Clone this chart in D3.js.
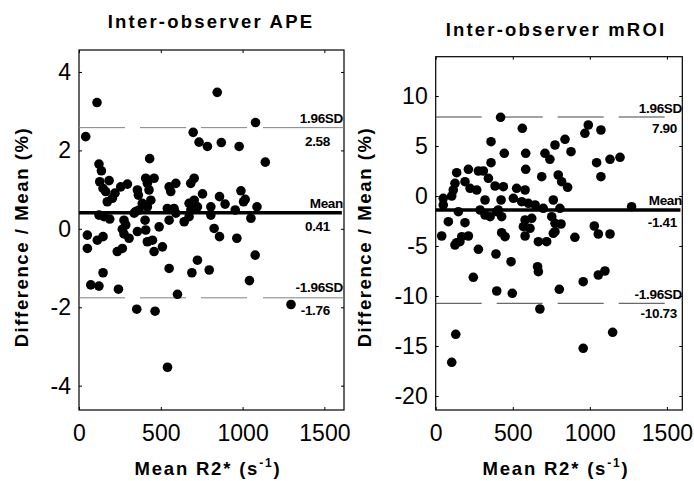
<!DOCTYPE html>
<html>
<head>
<meta charset="utf-8">
<script src="https://cdn.jsdelivr.net/npm/d3@7"></script>
<style>
body { margin: 0; background: #fff; }
text { font-family: "Liberation Sans", Arial, sans-serif; }
</style>
</head>
<body>
<script>
// Inter-observer APE : mean R2* vs difference/mean (%)
var apeMean = [110, 845, 41, 698, 734, 785, 870, 979, 1079, 1139, 432, 122, 137, 127, 147, 184, 163, 173, 204, 220,
  255, 296, 357, 363, 408, 459, 418, 428, 387, 439, 347, 418, 551, 592, 561, 704, 683, 755, 673, 704,
  724, 684, 673, 643, 806, 806, 540, 581, 551, 592, 490, 337, 367, 122, 153, 188, 275, 286, 265, 275,
  306, 357, 408, 404, 418, 449, 459, 510, 51, 51, 112, 147, 234, 265, 147, 72, 122, 241, 551, 724,
  690, 796, 826, 859, 893, 990, 1006, 1016, 955, 1088, 1051, 859, 965, 1077, 1042, 353, 465, 602, 541, 1296]
var apeDiff = [3.22, 3.48, 2.35, 2.46, 2.21, 2.10, 2.20, 2.10, 2.71, 1.70, 1.79, 1.65, 1.48, 1.20, 1.03, 1.23, 0.95, 0.69, 0.78, 0.91,
  1.07, 1.14, 0.99, 0.86, 1.29, 1.29, 1.16, 0.99, 0.65, 0.73, 0.44, 0.56, 1.07, 1.16, 0.95, 1.29, 1.16, 0.89, 0.65, 0.73,
  0.56, 0.48, 0.31, 0.18, 0.56, 0.35, 0.52, 0.52, 0.22, 0.40, 0.05, 0.40, 0.48, 0.35, 0.31, 0.25, 0.22, 0.10, -0.01, -0.13,
  -0.24, -0.07, -0.03, 0.22, -0.33, -0.29, -0.58, -0.46, -0.16, -0.50, -0.29, -0.20, -0.58, -0.50, -1.12, -1.43, -1.46, -1.54, -1.01, -0.80,
  -1.12, -1.05, 0.01, 0.82, 0.63, 0.97, 0.69, 0.75, 0.48, 0.56, 0.27, -0.20, -0.24, -0.67, -1.32, -2.05, -2.10, -1.67, -3.53, -1.93]

// Inter-observer mROI
var roiMean = [421, 562, 359, 445, 584, 709, 741, 774, 359, 584, 688, 136, 212, 277, 309, 342, 125, 190, 223, 266,
  114, 104, 385, 439, 525, 580, 49, 49, 320, 424, 504, 558, 601, 645, 698, 763, 147, 82, 190, 288,
  320, 353, 396, 428, 406, 580, 623, 569, 612, 753, 39, 136, 169, 212, 428, 450, 580, 666, 720, 763,
  277, 391, 489, 661, 990, 968, 1072, 839, 878, 1044, 1131, 1196, 1072, 795, 817, 856, 806, 1271, 774, 813,
  774, 903, 1029, 1055, 1131, 125, 157, 666, 244, 396, 497, 676, 802, 957, 1055, 1098, 130, 104, 957, 1148]
var roiDiff = [7.87, 6.77, 5.43, 4.27, 4.27, 4.27, 3.67, 5.10, 3.33, 2.67, 1.93, 2.33, 2.67, 2.50, 2.50, 1.77, 1.27, 1.43, 0.77, 0.60,
  0.60, 0.00, 1.00, 0.93, 0.77, 0.60, -0.23, -0.90, -0.40, -0.40, -0.23, -0.57, -0.73, -0.90, -1.23, -0.40, -1.57, -2.57, -2.67, -1.40,
  -1.90, -2.07, -1.57, -2.07, -1.40, -2.40, -2.23, -3.07, -3.23, -2.07, -4.00, -4.67, -4.07, -4.00, -3.67, -4.07, -4.00, -4.57, -4.57, -3.73,
  -5.33, -5.80, -6.57, -7.07, 7.10, 6.27, 6.60, 5.67, 4.43, 3.33, 3.67, 3.87, 1.93, 2.10, 1.43, 0.87, -1.23, -1.07, -2.73, -2.80,
  -3.57, -4.13, -3.00, -3.80, -3.80, -4.90, -4.57, -7.57, -8.13, -9.50, -9.73, -11.30, -9.33, -8.57, -7.90, -7.50, -13.83, -16.63, -15.23, -13.63]

var xTicks = [0, 500, 1000, 1500]
var apeYTicks = [-4, -2, 0, 2, 4]
var roiYTicks = [-20, -15, -10, -5, 0, 5, 10]
var limitNames = ["1.96SD", "Mean", "-1.96SD"]
var apeLimits = [2.58, 0.41, -1.76]
var roiLimits = [7.90, -1.41, -10.73]

var width = 694,
    height = 481

var svg = d3.select("body")
  .append("svg")
  .attr("width", width)
  .attr("height", height)

function makeTranslate(x, y) {
  return "translate(" + x + " " + y + ")"
}

function numText(d) {
  return String(d)
}

function drawPanel(p) {
  var x = d3.scaleLinear().domain(p.xDomain).range([p.left, p.right])
  var y = d3.scaleLinear().domain(p.yDomain).range([p.bottom, p.top])
  var g = svg.append("g")

  // inward ticks on all four sides
  g.append("g")
    .attr("transform", makeTranslate(0, p.bottom))
    .call(d3.axisBottom(x).tickValues(xTicks).tickSize(-3).tickPadding(15).tickFormat(numText))
  g.append("g")
    .attr("transform", makeTranslate(p.left, 0))
    .call(d3.axisLeft(y).tickValues(p.yTicks).tickSize(-3).tickPadding(8).tickFormat(numText))
  g.append("g")
    .attr("transform", makeTranslate(0, p.top))
    .call(d3.axisTop(x).tickValues(xTicks).tickSize(-3).tickFormat(""))
  g.append("g")
    .attr("transform", makeTranslate(p.right, 0))
    .call(d3.axisRight(y).tickValues(p.yTicks).tickSize(-3).tickFormat(""))

  g.selectAll(".domain").remove()
  g.selectAll(".tick text")
    .attr("font-size", 23)
    .attr("font-family", "Liberation Sans, Arial, sans-serif")
    .attr("fill", "#000")

  g.append("rect")
    .attr("x", p.left)
    .attr("y", p.top)
    .attr("width", p.right - p.left)
    .attr("height", p.bottom - p.top)
    .attr("fill", "none")
    .attr("stroke", "#000")
    .attr("stroke-width", 1.2)

  // limits of agreement
  p.limits.forEach(function(v, i) {
    if (i === 1) {
      g.append("line")
        .attr("x1", x(0))
        .attr("x2", x(p.meanEnd))
        .attr("y1", y(v))
        .attr("y2", y(v))
        .attr("stroke", "#000")
        .attr("stroke-width", 3.5)
    } else {
      g.append("line")
        .attr("x1", x(0))
        .attr("x2", x(p.dashEnd))
        .attr("y1", y(v))
        .attr("y2", y(v))
        .attr("stroke", p.dashColor)
        .attr("stroke-width", 1)
        .attr("stroke-dasharray", p.dash)
    }
  })

  g.selectAll("circle")
    .data(p.xs)
    .enter().append("circle")
    .attr("cx", function(d) { return x(d) })
    .attr("cy", function(d, i) { return y(p.ys[i]) })
    .attr("r", 4.8)
    .attr("fill", "#000")

  p.limits.forEach(function(v, i) {
    g.append("text")
      .text(limitNames[i])
      .attr("x", p.nameX)
      .attr("y", y(v) + p.nameDy[i])
      .attr("text-anchor", "end")
      .attr("font-size", 13.5)
      .attr("font-weight", "bold")
      .attr("letter-spacing", -0.3)
    g.append("text")
      .text(v.toFixed(2))
      .attr("x", p.valueX)
      .attr("y", y(v) + p.valueDy[i])
      .attr("text-anchor", "end")
      .attr("font-size", 13.5)
      .attr("font-weight", "bold")
      .attr("letter-spacing", -0.3)
  })

  g.append("text")
    .text(p.title)
    .attr("x", p.titleX)
    .attr("y", p.titleY)
    .attr("text-anchor", "middle")
    .attr("font-size", 18.5)
    .attr("font-weight", "bold")
    .attr("letter-spacing", 2.2)

  var xt = g.append("text")
    .attr("x", p.xTitleX)
    .attr("y", 475)
    .attr("text-anchor", "middle")
    .attr("font-size", 18.5)
    .attr("font-weight", "bold")
    .attr("letter-spacing", 1.8)
  xt.append("tspan").text("Mean R2* (s")
  xt.append("tspan").text("-1").attr("font-size", 12).attr("dy", -8)
  xt.append("tspan").text(")").attr("dy", 8)

  g.append("text")
    .text("Difference / Mean (%)")
    .attr("transform", makeTranslate(p.yTitleX, 237) + " rotate(-90)")
    .attr("text-anchor", "middle")
    .attr("font-size", 18.5)
    .attr("font-weight", "bold")
    .attr("letter-spacing", 1.6)
}

drawPanel({
  title: "Inter-observer APE",
  titleX: 211, titleY: 28,
  xTitleX: 208, yTitleX: 28,
  left: 79, right: 344, top: 50, bottom: 410,
  xDomain: [0, 1620], yDomain: [-4.62, 4.56],
  yTicks: apeYTicks,
  xs: apeMean, ys: apeDiff,
  limits: apeLimits,
  meanEnd: 1607, dashEnd: 1620,
  dash: "46,15,46,15,46,16,90", dashColor: "#808080",
  nameX: 343, valueX: 330,
  nameDy: [-5, -5, -6], valueDy: [18, 18, 17]
})

drawPanel({
  title: "Inter-observer mROI",
  titleX: 556, titleY: 36,
  xTitleX: 556, yTitleX: 371,
  left: 435.7, right: 682.3, top: 56.7, bottom: 410,
  xDomain: [0, 1600], yDomain: [-21.4, 13.93],
  yTicks: roiYTicks,
  xs: roiMean, ys: roiDiff,
  limits: roiLimits,
  meanEnd: 1588, dashEnd: 1488,
  dash: "46,15", dashColor: "#444",
  nameX: 682, valueX: 677,
  nameDy: [-4, -5, -4.5], valueDy: [15.5, 16.5, 14.5]
})
</script>
</body>
</html>
